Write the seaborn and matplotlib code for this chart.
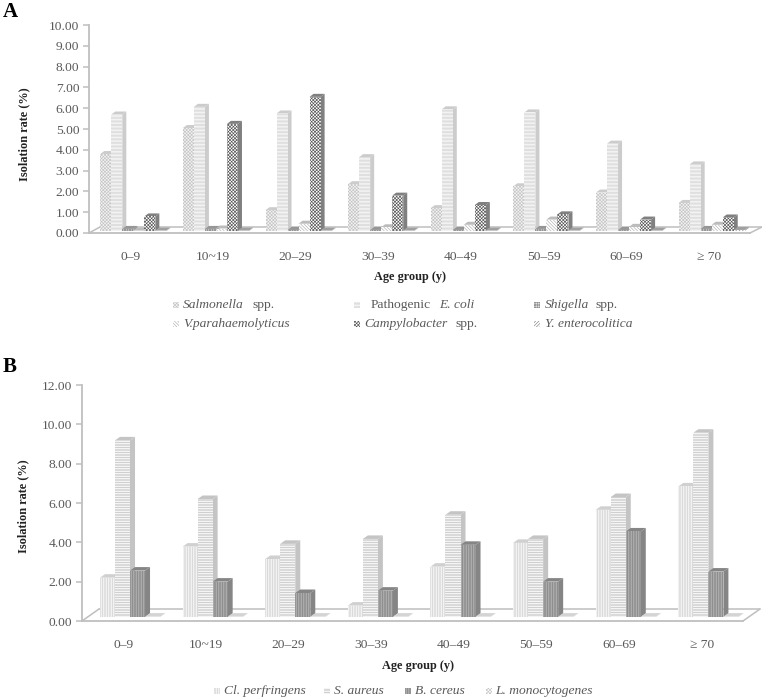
import numpy as np
import pandas as pd
import matplotlib
matplotlib.use("Agg")
import matplotlib.pyplot as plt
from matplotlib.patches import Polygon, Rectangle
from matplotlib.lines import Line2D
import seaborn as sns

W, H = 762, 699
sns.set_style("white")
plt.rcParams["font.family"] = ["Liberation Serif", "DejaVu Serif"]
plt.rcParams["hatch.linewidth"] = 0.45

groups = ["0–9", "10~19", "20–29", "30–39", "40–49", "50–59", "60–69", "≥ 70"]

series_a = ["Salmonella", "Pathogenic E. coli", "Shigella", "V.parahaemolyticus", "Campylobacter", "Y. enterocolitica"]
salmonella = [3.70, 4.95, 1.00, 2.25, 1.10, 2.15, 1.85, 1.35]
ecoli = [5.60, 5.97, 5.65, 3.55, 5.85, 5.70, 4.20, 3.20]
shigella = [0.10, 0.10, 0.05, 0.05, 0.05, 0.10, 0.05, 0.10]
vpara = [0.02, 0.12, 0.35, 0.18, 0.30, 0.55, 0.20, 0.30]
campylobacter = [0.70, 5.15, 6.45, 1.70, 1.25, 0.80, 0.55, 0.65]
yersinia = [0.02, 0.02, 0.02, 0.02, 0.02, 0.02, 0.02, 0.05]

series_b = ["Cl. perfringens", "S. aureus", "B. cereus", "L. monocytogenes"]
perfringens = [2.00, 3.58, 2.95, 0.58, 2.56, 3.77, 5.45, 6.64]
aureus = [8.98, 6.00, 3.72, 3.97, 5.20, 3.97, 6.10, 9.37]
cereus = [2.36, 1.80, 1.22, 1.34, 3.67, 1.80, 4.35, 2.31]
listeria = [0.02, 0.02, 0.02, 0.02, 0.02, 0.02, 0.02, 0.02]

TXT = "#595959"
AXC = "#bfbfbf"

# fill, hatch, hatch colour, side colour
style_a = [("#f4f4f4", "x" * 10, "#c4c4c4", "#cccccc"),
           ("#ffffff", "-" * 12, "#cccccc", "#cccccc"),
           ("#ffffff", "+" * 10, "#949494", "#969696"),
           ("#ffffff", "\\" * 10, "#b0b0b0", "#bcbcbc"),
           ("#ffffff", "x" * 10, "#555555", "#808080"),
           ("#ffffff", "/" * 10, "#808080", "#a0a0a0")]
style_b = [("#fafafa", "|" * 10, "#c8c8c8", "#d0d0d0"),
           ("#ffffff", "-" * 10, "#b4b4b4", "#c4c4c4"),
           ("#b4b4b4", "|" * 10, "#787878", "#858585"),
           ("#ffffff", "x" * 10, "#c4c4c4", "#d4d4d4")]


def fx(x):
    return x / W


def fy(y):
    return 1 - y / H


def panel(values, names, styles, left, right, top, bottom, ymax, yticks, width,
          shift_px, base_px, depth, floor_y, floor_left, floor_right):
    ax = fig.add_axes([fx(left), fy(bottom), (right - left) / W, (bottom - top) / H])
    df = pd.DataFrame({"group": np.tile(groups, len(names)),
                       "series": np.repeat(names, len(groups)),
                       "rate": np.concatenate(values)})
    sns.barplot(data=df, x="group", y="rate", hue="series", order=groups, hue_order=names,
                palette=[s[0] for s in styles], saturation=1, width=width, legend=False,
                errorbar=None, ax=ax, linewidth=0)
    ax.set_xlim(-0.5, 7.5)
    ax.set_ylim(0, ymax)
    ux = 8 / (right - left)          # data units per pixel, x
    uy = ymax / (bottom - top)       # data units per pixel, y
    base = base_px * uy
    dx, dy = depth[0] * ux, depth[1] * uy
    for i, (cont, st) in enumerate(zip(ax.containers, styles)):
        for p in cont:
            p.set_x(p.get_x() + shift_px * ux)
            p.set_y(base)
            p.set_facecolor(st[0])
            p.set_hatch(st[1])
            p.set_edgecolor(st[2])
            p.set_linewidth(0)
            z = 3 + i
            p.set_zorder(z + 0.5)
            x0, w, y1 = p.get_x(), p.get_width(), base + p.get_height()
            ax.add_patch(Polygon([(x0 + w, base), (x0 + w + dx, base + dy), (x0 + w + dx, y1 + dy), (x0 + w, y1)],
                                 closed=True, facecolor=st[3], edgecolor="none", zorder=z, clip_on=False))
            ax.add_patch(Polygon([(x0, y1), (x0 + dx, y1 + dy), (x0 + w + dx, y1 + dy), (x0 + w, y1)],
                                 closed=True, facecolor=st[3], edgecolor="none", zorder=z, clip_on=False))
    # floor of the chart, behind the bars
    for xs, ys in [((left, floor_left), (bottom, floor_y)),
                   ((floor_left, floor_right), (floor_y, floor_y)),
                   ((right, floor_right), (bottom, floor_y))]:
        fig.add_artist(Line2D([fx(v) for v in xs], [fy(v) for v in ys], color=AXC, lw=1.1, zorder=-1))
    ax.patch.set_alpha(0)
    sns.despine(ax=ax)
    for s in ("left", "bottom"):
        ax.spines[s].set_color(AXC)
        ax.spines[s].set_linewidth(1.3)
    ax.set_yticks(yticks)
    ax.set_yticklabels([f"{t:.2f}" for t in yticks], fontsize=9.7, color=TXT)
    ax.set_xticks(range(8))
    ax.set_xticklabels(groups, fontsize=9.7, color=TXT)
    ax.set_xticks(np.arange(-0.5, 8), minor=True)
    ax.tick_params(axis="x", which="major", length=0, pad=13)
    ax.tick_params(axis="x", which="minor", length=4, width=1.1, color=AXC)
    ax.tick_params(axis="y", length=4, width=1.1, color=AXC, pad=3, left=True)
    ax.set_xlabel("")
    ax.set_ylabel("")
    return ax


def swatch(x, y, st):
    fig.add_artist(Rectangle((fx(x - 3), fy(y + 3)), 6 / W, 6 / H, facecolor=st[0], hatch=st[1],
                             edgecolor=st[2], linewidth=0))


def label(x, y, s, style="normal", color=TXT, size=9.7, weight="normal", ha="left", rotation=0):
    fig.text(fx(x), fy(y), s, style=style, color=color, fontsize=size, weight=weight,
             ha=ha, va="center", rotation=rotation, rotation_mode="anchor" if rotation == 0 else "default")


fig = plt.figure(figsize=(W / 100, H / 100), dpi=100, facecolor="white")

panel([salmonella, ecoli, shigella, vpara, campylobacter, yersinia], series_a, style_a,
      left=89, right=750, top=25, bottom=233, ymax=10, yticks=list(range(11)), width=0.8,
      shift_px=3, base_px=2, depth=(4, 3), floor_y=227, floor_left=100, floor_right=762)
panel([perfringens, aureus, cereus, listeria], series_b, style_b,
      left=82, right=743, top=385, bottom=621, ymax=12, yticks=list(range(0, 13, 2)), width=0.727,
      shift_px=6.7, base_px=4, depth=(5, 3.5), floor_y=609, floor_left=99, floor_right=760)

label(10, 12, "A", color="black", size=15, weight="bold", ha="center")
label(10, 367, "B", color="black", size=15, weight="bold", ha="center")
label(24, 134, "Isolation rate (%)", color="#222222", size=8.8, weight="bold", ha="center", rotation=90)
label(23, 506, "Isolation rate (%)", color="#222222", size=8.8, weight="bold", ha="center", rotation=90)
label(410, 277, "Age group (y)", color="#222222", size=8.8, weight="bold", ha="center")
label(418, 666, "Age group (y)", color="#222222", size=8.8, weight="bold", ha="center")

# legend A
swatch(176, 305, style_a[0]); label(183, 305, "Salmonella", "italic"); label(252, 305, "spp.")
swatch(357, 305, style_a[1]); label(371, 305, "Pathogenic"); label(439, 305, "E. coli", "italic")
swatch(537, 305, style_a[2]); label(545, 305, "Shigella", "italic"); label(596, 305, "spp.")
swatch(176, 324, style_a[3]); label(183, 324, "V.parahaemolyticus", "italic")
swatch(357, 324, style_a[4]); label(364, 324, "Campylobacter", "italic"); label(455, 324, "spp.")
swatch(537, 324, style_a[5]); label(545, 324, "Y. enterocolitica", "italic")
# legend B
swatch(217, 691, style_b[0]); label(224, 691, "Cl. perfringens", "italic")
swatch(327, 691, style_b[1]); label(334, 691, "S. aureus", "italic")
swatch(408, 691, style_b[2]); label(415, 691, "B. cereus", "italic")
swatch(489, 691, style_b[3]); label(495, 691, "L. monocytogenes", "italic")

fig.savefig("out.png", dpi=100, facecolor="white")
